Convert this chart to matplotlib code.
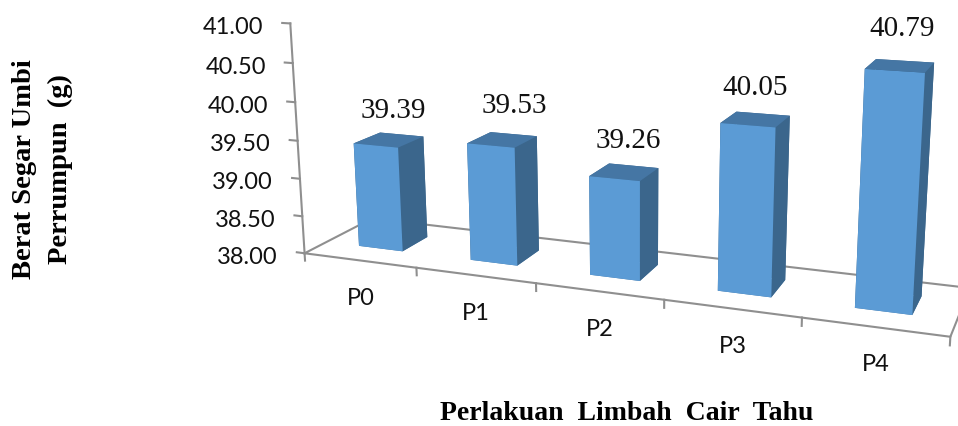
import numpy as np
import matplotlib
matplotlib.use("Agg")
import matplotlib.pyplot as plt
from mpl_toolkits.mplot3d import proj3d

categories = ["P0", "P1", "P2", "P3", "P4"]
values = [39.39, 39.53, 39.26, 40.05, 40.79]
y_ticks = [38.0, 38.5, 39.0, 39.5, 40.0, 40.5, 41.0]

WIDTH, HEIGHT = 958, 426
BASE, TOP = 38.0, 41.0

# bar footprint inside each category slot and along the depth axis
GAP = 0.3009
DEPTH_FRONT, DEPTH_BACK = 0.3101, 0.7033

FRONT_COLOR = "#5B9BD5"
TOP_COLOR = "#4576A4"
SIDE_COLOR = "#3B668C"
AXIS_COLOR = "#8F8F8F"

# nudges (pixels) for the value labels, from the centre of each bar's back top edge
label_dx = [-8, 1, -5, -8, -3]
label_dy = [24, 28, 25, 26, 32]

fig = plt.figure(figsize=(WIDTH / 100, HEIGHT / 100), dpi=100)

# camera set up so the floor runs down to the right
size = 709.4668
centre_x, centre_y = 614.1853, 162.8458
ax = fig.add_subplot(
    projection="3d",
    position=[
        (centre_x - size / 2) / WIDTH,
        1 - (centre_y + size / 2) / HEIGHT,
        size / WIDTH,
        size / HEIGHT,
    ],
)
ax.computed_zorder = False
ax.set_xlim(0, len(categories), view_margin=0)
ax.set_ylim(0, 1, view_margin=0)
ax.set_zlim(BASE, TOP, view_margin=0)
ax.view_init(elev=14.0381, azim=-69.0121, roll=0.1363)
ax.set_proj_type("persp", focal_length=float(np.exp(-1.0362)))
ax.set_box_aspect((1, 0.2030, 0.3645))
ax.set_axis_off()
ax.apply_aspect()
proj = ax.get_proj()


def add_label(x, y, z, text, dx, dy, **kwargs):
    # place text at a pixel offset from a point in chart coordinates
    px, py, _ = proj3d.proj_transform(x, y, z, proj)
    ax.annotate(
        text,
        xy=(px, py),
        xycoords="data",
        xytext=(dx, dy),
        textcoords="offset pixels",
        annotation_clip=False,
        **kwargs,
    )


n = len(categories)
line_style = dict(color=AXIS_COLOR, lw=1.5, zorder=1)

# floor outline and value axis
ax.plot([0, n, n, 0, 0], [0, 0, 1, 1, 0], [BASE] * 5, **line_style)
ax.plot([0, 0], [0, 0], [BASE, TOP], **line_style)

for i in range(n + 1):
    ax.plot([i, i], [0, 0], [BASE, BASE - 0.1], **line_style)

for tick in y_ticks:
    ax.plot([0, -0.072], [0, 0], [tick, tick], **line_style)
    add_label(
        0, 0, tick, f"{tick:.2f}", -27, -4,
        ha="right", va="center", fontsize=17, family="Lato", color="#111111",
    )

face_colors = [TOP_COLOR, TOP_COLOR, FRONT_COLOR, SIDE_COLOR, SIDE_COLOR, SIDE_COLOR]
for i, (name, value) in enumerate(zip(categories, values)):
    ax.bar3d(
        i + GAP, DEPTH_FRONT, BASE,
        1 - 2 * GAP, DEPTH_BACK - DEPTH_FRONT, value - BASE,
        color=face_colors, shade=False, zorder=2 + i,
    )
    add_label(
        i + 0.5, DEPTH_BACK, value, f"{value:.2f}", label_dx[i], label_dy[i],
        ha="center", va="center", fontsize=21, family="Liberation Serif", color="#111111",
    )
    add_label(
        i + 0.5, 0, BASE, name, 1, -38,
        ha="center", va="center", fontsize=17, family="Lato", color="#111111",
    )

title_style = dict(family="Liberation Serif", fontweight="bold", color="black")
fig.text(627 / WIDTH, 1 - 414 / HEIGHT, "Perlakuan  Limbah  Cair  Tahu", ha="center", va="center", fontsize=20, **title_style)
fig.text(25 / WIDTH, 1 - 169 / HEIGHT, "Berat Segar Umbi", rotation=90, ha="center", va="center", fontsize=20.5, **title_style)
fig.text(60 / WIDTH, 1 - 169 / HEIGHT, "Perrumpun  (g)", rotation=90, ha="center", va="center", fontsize=20.5, **title_style)

fig.savefig("out.png", dpi=100)
